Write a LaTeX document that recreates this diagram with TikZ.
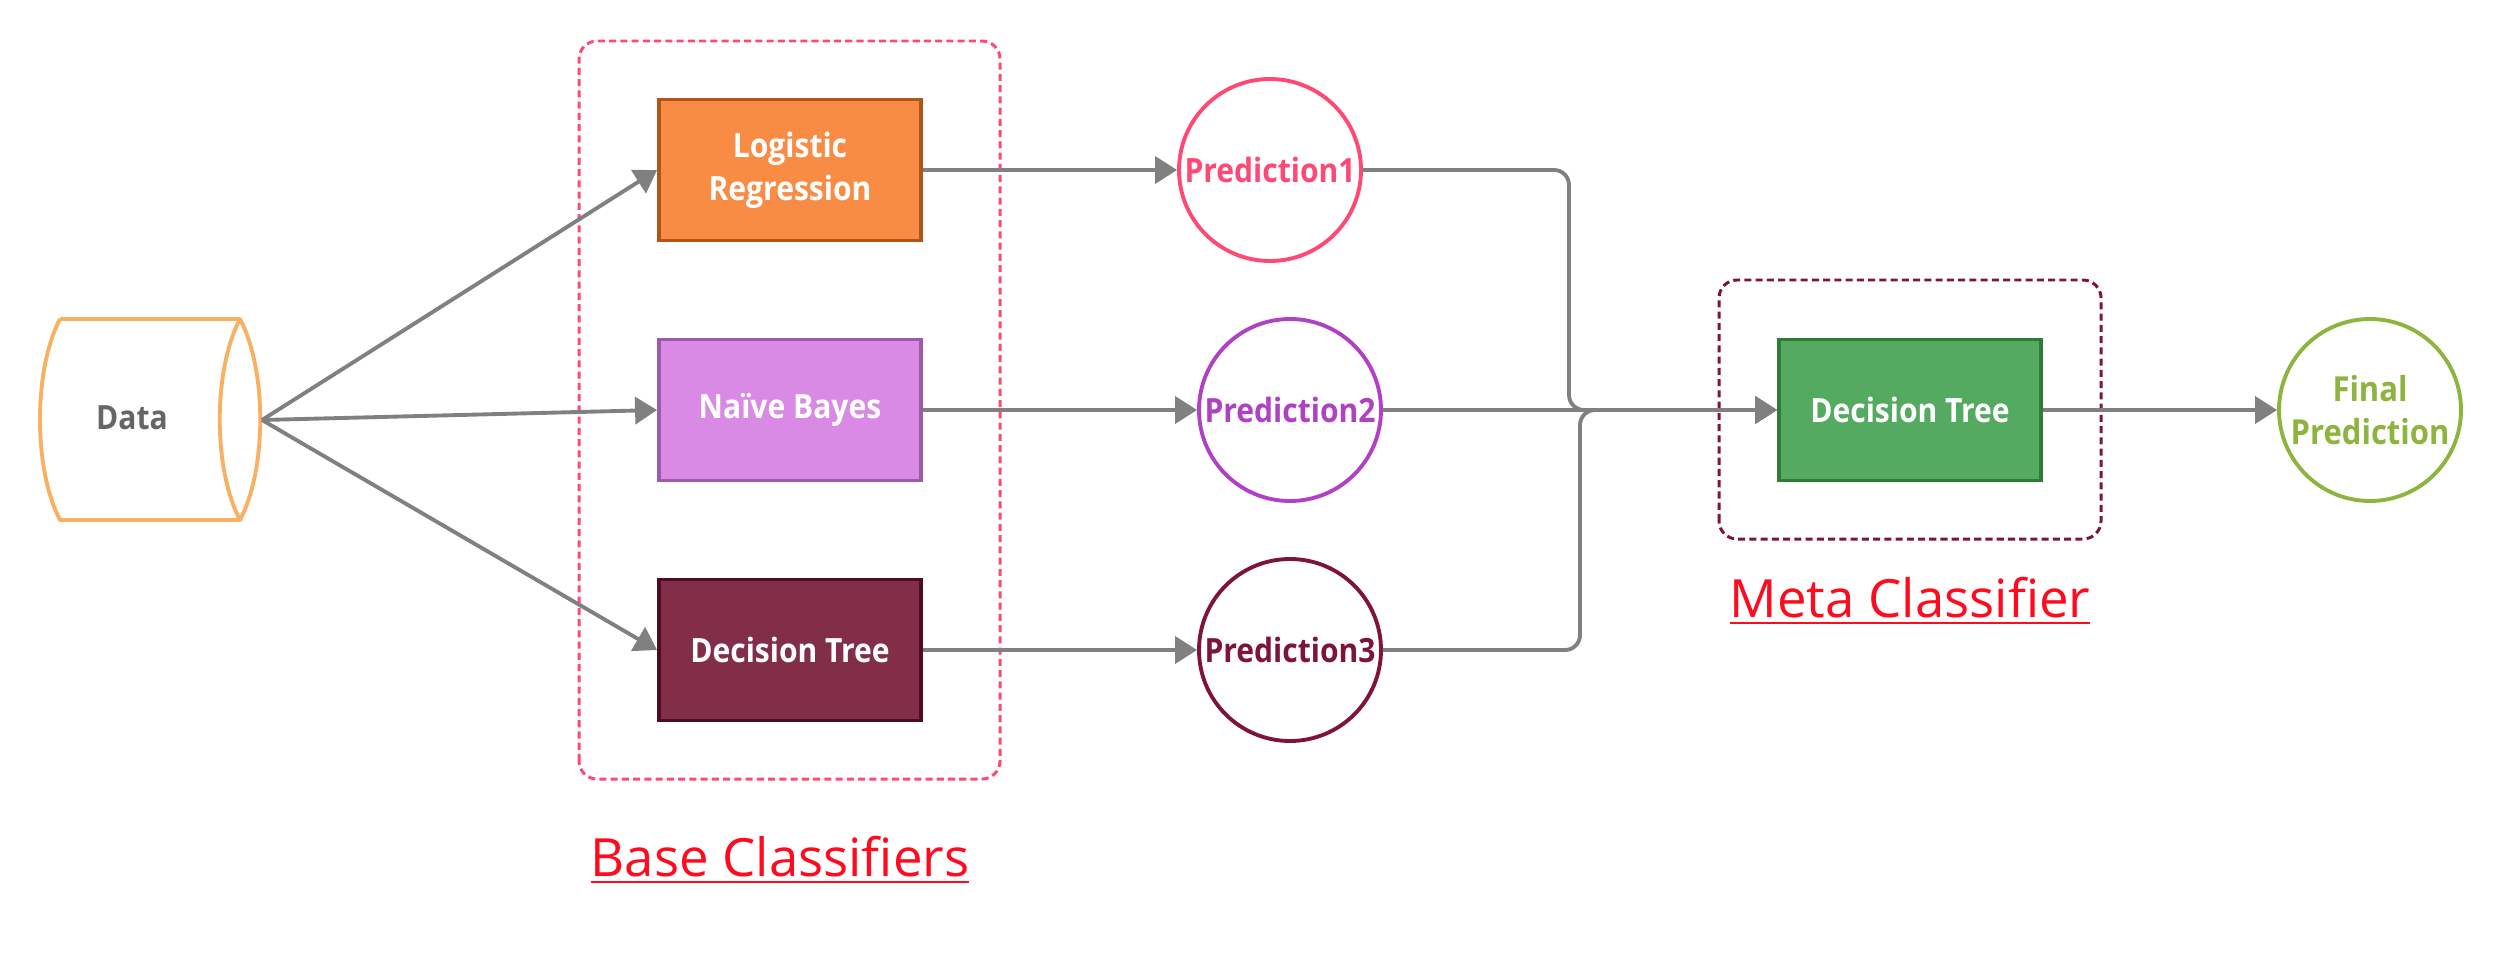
\documentclass[tikz,border=0pt]{standalone}
\usepackage{fontspec}
\setmainfont{Open Sans}
\newfontfamily\semifont{Open Sans}[FakeStretch=0.9]
\usetikzlibrary{arrows.meta}

\definecolor{datacol}{HTML}{F9B063}
\definecolor{lrfill}{HTML}{F98C45}
\definecolor{lrline}{HTML}{B05418}
\definecolor{nbfill}{HTML}{D98AE4}
\definecolor{nbline}{HTML}{9C5BA8}
\definecolor{dtfill}{HTML}{832E48}
\definecolor{dtline}{HTML}{4E0B22}
\definecolor{mtfill}{HTML}{55AA62}
\definecolor{mtline}{HTML}{2E7D32}
\definecolor{pinkcol}{HTML}{FF4975}
\definecolor{purplecol}{HTML}{B041C5}
\definecolor{maroon}{HTML}{7E1438}
\definecolor{finalcol}{HTML}{8DB43E}
\definecolor{linegray}{HTML}{808080}
\definecolor{labelred}{HTML}{FF0A1E}

\begin{document}
\begin{tikzpicture}[
    conn/.style={draw=linegray, line width=1.1pt, -{Triangle[length=0.22cm,width=0.27cm]}},
    clf/.style={rectangle, minimum width=2.62cm, minimum height=1.41cm, line width=1.1pt,
        text=white, align=center, inner sep=0pt, font=\semifont\bfseries\fontsize{9.5}{12.2}\selectfont},
    pred/.style={circle, minimum size=1.82cm, fill=white, line width=1.1pt, inner sep=0pt,
        align=center, font=\semifont\bfseries\fontsize{9.5}{12.2}\selectfont},
    group/.style={rounded corners=0.18cm, line width=0.85pt, dash pattern=on 2pt off 1.2pt},
    title/.style={text=labelred, font=\fontsize{15}{18}\selectfont}
]
    \useasboundingbox (0,0) rectangle (25,9.6);

    % groups
    \draw[group, pinkcol] (5.79,1.81) rectangle (10.00,9.19);
    \draw[group, maroon] (17.19,4.21) rectangle (21.01,6.80);
    \node[title] (basetitle) at (7.80,1.00) {\underline{Base Classifiers}};
    \node[title] (metatitle) at (19.10,3.59) {\underline{Meta Classifier}};

    % input (drum)
    \draw[datacol, line width=1.1pt, line join=round]
        (0.60,6.41) -- (2.40,6.41)
        .. controls (2.67,5.90) and (2.67,4.91) .. (2.40,4.40)
        .. controls (2.13,4.91) and (2.13,5.90) .. (2.40,6.41)
        (2.40,4.40) -- (0.60,4.40)
        .. controls (0.333,4.91) and (0.333,5.90) .. (0.60,6.41);
    \node[text=black!60, font=\semifont\bfseries\fontsize{9.5}{12}\selectfont] (data) at (1.32,5.42) {Data};
    \coordinate (dataout) at (2.62,5.40);

    % base classifiers
    \node[clf, fill=lrfill, draw=lrline] (lr) at (7.90,7.90) {Logistic\\Regression};
    \node[clf, fill=nbfill, draw=nbline] (nb) at (7.90,5.50) {Naïve Bayes};
    \node[clf, fill=dtfill, draw=dtline] (dt) at (7.90,3.10) {Decision Tree};

    % predictions
    \node[pred, draw=pinkcol, text=pinkcol] (p1) at (12.70,7.90) {Prediction1};
    \node[pred, draw=purplecol, text=purplecol] (p2) at (12.90,5.50) {Prediction2};
    \node[pred, draw=maroon, text=maroon] (p3) at (12.90,3.10) {Prediction3};

    % meta classifier
    \node[clf, fill=mtfill, draw=mtline] (meta) at (19.10,5.50) {Decision Tree};
    \node[pred, draw=finalcol, text=finalcol, font=\semifont\bfseries\fontsize{9.8}{12.4}\selectfont] (final) at (23.70,5.50) {Final\\Prediction};

    \coordinate (j1) at (15.69,5.50);
    \coordinate (j2) at (15.80,5.50);

    % connectors
    \draw[conn] (dataout) -- (lr.west);
    \draw[conn] (dataout) -- (nb.west);
    \draw[conn] (dataout) -- (dt.west);
    \draw[conn] (lr) -- (p1);
    \draw[conn] (nb) -- (p2);
    \draw[conn] (dt) -- (p3);
    \draw[conn, rounded corners=0.15cm] (p1.east) -| (j1) -- (meta.west);
    \draw[conn, rounded corners=0.15cm] (p3.east) -| (j2) -- (meta.west);
    \draw[conn] (p2) -- (meta);
    \draw[conn] (meta) -- (final);
\end{tikzpicture}
\end{document}
